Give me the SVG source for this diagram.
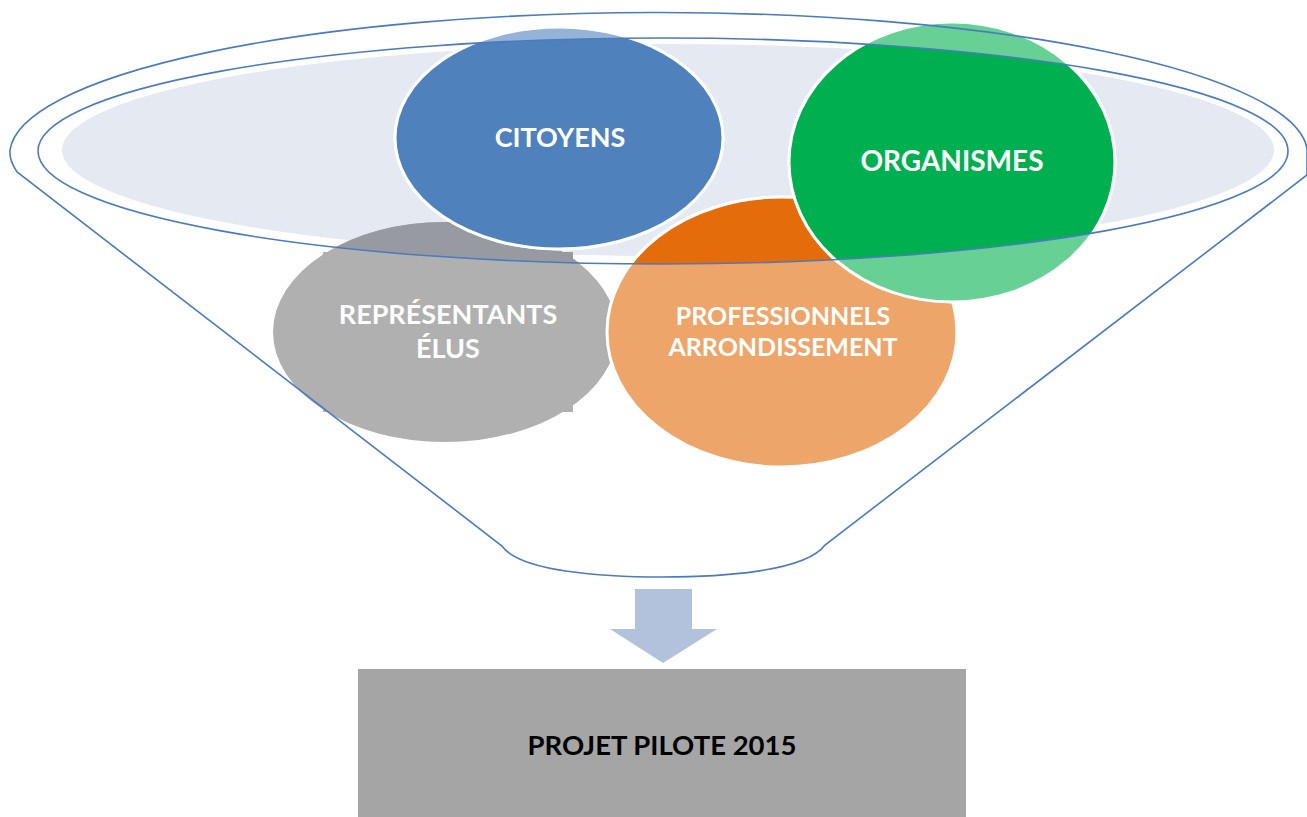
<svg xmlns="http://www.w3.org/2000/svg" width="1307" height="817" viewBox="0 0 1307 817">
<defs>
<style>
.lbl{font-family:Lato,"Open Sans","Liberation Sans",sans-serif;font-weight:bold;font-size:27px;fill:#fff;text-anchor:middle}
.sm{font-size:25px}
.dark{fill:#000;font-size:27.5px}
.circ{stroke:#fff;stroke-width:3}
.rimline{fill:none;stroke:#4A7BBE;stroke-width:1.6}
</style>
<clipPath id="rim"><ellipse cx="663" cy="151" rx="625" ry="113"/></clipPath>
</defs>
<rect width="1307" height="817" fill="#fff"/>
<g id="funnel-fill">
<ellipse cx="668" cy="150" rx="606" ry="106" fill="#E4E9F2"/>
</g>
<g id="node-representants">
<ellipse cx="445" cy="332" rx="172" ry="110" fill="#B0B0B0"/>
<rect x="323" y="252" width="250" height="160" fill="#B0B0B0"/>
<g clip-path="url(#rim)">
<ellipse cx="445" cy="332" rx="172" ry="110" fill="#979BA1"/>
<rect x="323" y="252" width="250" height="160" fill="#979BA1"/>
</g>
<text class="lbl" x="448" y="324">REPRÉSENTANTS</text>
<text class="lbl" x="448" y="358">ÉLUS</text>
</g>
<g id="node-professionnels">
<ellipse class="circ" cx="782" cy="332" rx="175" ry="135" fill="#EEA56A"/>
<ellipse class="circ" cx="782" cy="332" rx="175" ry="135" fill="#E46C0A" clip-path="url(#rim)"/>
<text class="lbl sm" x="783" y="325">PROFESSIONNELS</text>
<text class="lbl sm" x="783" y="356">ARRONDISSEMENT</text>
</g>
<g id="node-citoyens">
<ellipse class="circ" cx="559" cy="138" rx="164" ry="111" fill="#95B3D7"/>
<ellipse class="circ" cx="559" cy="138" rx="164" ry="111" fill="#4F81BD" clip-path="url(#rim)"/>
<text class="lbl" x="560" y="147">CITOYENS</text>
</g>
<g id="node-organismes">
<ellipse class="circ" cx="952" cy="162" rx="163" ry="140" fill="#66D095"/>
<ellipse class="circ" cx="952" cy="162" rx="163" ry="140" fill="#00B050" clip-path="url(#rim)"/>
<text class="lbl" x="952" y="171" style="font-size:28px">ORGANISMES</text>
</g>
<g id="funnel-outline">
<ellipse class="rimline" cx="663" cy="151" rx="625" ry="113"/>
<path class="rimline" d="M 17 172 Q 9 160 10 150 A 649 142 0 0 1 1307 148 L 1307 175 L 825 545 C 805 572 720 577 662 577 C 605 577 520 572 502 546 Z"/>
</g>
<g id="connectors">
<path d="M 635 589 L 692 589 L 692 629 L 717 629 L 663 663 L 610 629 L 635 629 Z" fill="#B2C2DD"/>
</g>
<g id="node-projet">
<rect x="358" y="669" width="608" height="148" fill="#A5A5A5"/>
<text class="lbl dark" x="662" y="755">PROJET PILOTE 2015</text>
</g>
</svg>
